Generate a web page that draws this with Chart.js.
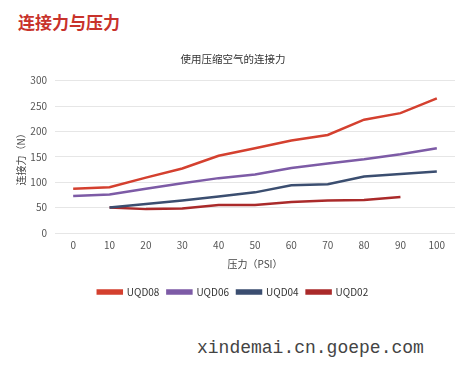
<!DOCTYPE html>
<html>
<head>
<meta charset="utf-8">
<script src="https://cdn.jsdelivr.net/npm/chart.js@4"></script>
<style>
    body { margin: 0; background: #fff; width: 460px; height: 370px; position: relative; overflow: hidden; }
    #heading { position: absolute; left: 18px; top: 9px; font: bold 17px "Noto Sans CJK SC", sans-serif; color: #c8322b; }
    #box { position: absolute; left: 0; top: 45px; width: 460px; height: 262px; }
    #mark { position: absolute; left: 197px; top: 338px; font: 18px "Liberation Mono", monospace; color: #444; }
</style>
</head>
<body>
<div id="heading">连接力与压力</div>
<div id="box"><canvas id="force-chart"></canvas></div>
<div id="mark">xindemai.cn.goepe.com</div>
<script>
const pressureLabels = ['0', '10', '20', '30', '40', '50', '60', '70', '80', '90', '100'];
const uqd08 = [87, 90, 109, 127, 152, 167, 182, 193, 223, 236, 265];
const uqd06 = [73, 76, 87, 98, 108, 115, 128, 137, 145, 155, 167];
const uqd04 = [null, 50, 57, 64, 72, 80, 94, 96, 111, 116, 121];
const uqd02 = [null, 50, 47, 48, 55, 55, 61, 64, 65, 71, null];

const seriesNames = ['UQD08', 'UQD06', 'UQD04', 'UQD02'];
const seriesColors = ['#d4402f', '#7d5ba6', '#3b4e70', '#aa2a2a'];
const seriesValues = [uqd08, uqd06, uqd04, uqd02];

const cjk = '"Noto Sans CJK SC", "Noto Sans", sans-serif';

let ctx = document.getElementById('force-chart').getContext('2d');
let forceChart = new Chart(ctx, {
    type: 'line',
    data: {
        labels: pressureLabels,
        datasets: seriesNames.map((name, i) => ({
            label: name,
            data: seriesValues[i],
            borderColor: seriesColors[i],
            backgroundColor: seriesColors[i],
            borderWidth: 2.5,
            pointRadius: 0,
            tension: 0
        }))
    },
    options: {
        responsive: true,
        maintainAspectRatio: false,
        animation: false,
        layout: { padding: { left: 11, right: 5, top: 0, bottom: 0 } },
        plugins: {
            title: {
                display: true,
                text: '使用压缩空气的连接力',
                color: '#333',
                font: { family: cjk, size: 10.5, weight: 'normal' },
                padding: { top: 8, bottom: 15 }
            },
            legend: {
                position: 'bottom',
                labels: {
                    boxWidth: 24,
                    boxHeight: 3,
                    color: '#333',
                    padding: 8,
                    font: { family: cjk, size: 10 }
                }
            },
            tooltip: { enabled: false }
        },
        scales: {
            x: {
                offset: true,
                grid: { display: false, drawTicks: false },
                border: { display: false },
                ticks: { color: '#555', font: { family: cjk, size: 10 }, maxRotation: 0, padding: 6 },
                title: {
                    display: true,
                    text: '压力（PSI）',
                    color: '#444',
                    font: { family: cjk, size: 10 },
                    padding: { top: 1, bottom: 9 }
                }
            },
            y: {
                min: 0,
                max: 300,
                afterFit: (axis) => { axis.width = 44; },
                ticks: { stepSize: 50, color: '#555', font: { family: cjk, size: 10 }, padding: 8 },
                grid: { color: '#e6e6e6', drawTicks: false },
                border: { display: false },
                title: {
                    display: true,
                    text: '连接力（N）',
                    color: '#444',
                    font: { family: cjk, size: 10 },
                    padding: { bottom: 2 }
                }
            }
        }
    }
});
</script>
</body>
</html>
